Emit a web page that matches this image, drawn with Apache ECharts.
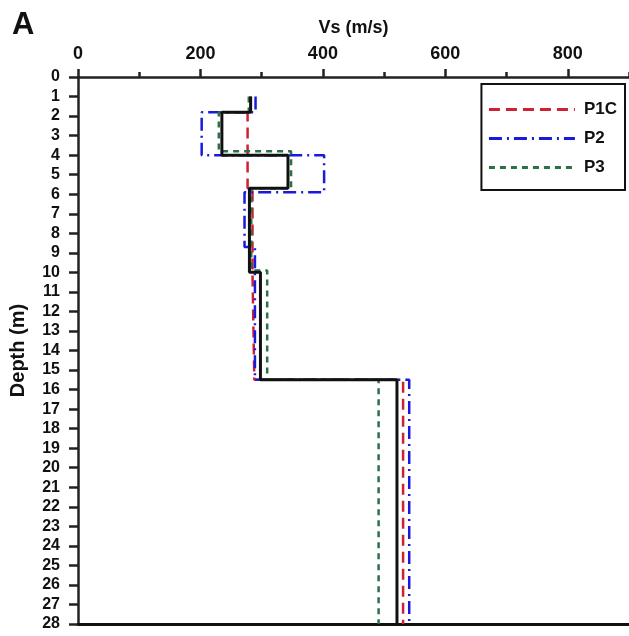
<!DOCTYPE html>
<html>
<head>
<meta charset="utf-8">
<script src="https://cdn.jsdelivr.net/npm/echarts@6/dist/echarts.min.js"></script>
<style>
html,body{margin:0;padding:0;background:#fff;}
#chart{width:629px;height:636px;}
</style>
</head>
<body>
<div id="chart"></div>
<script>
// Layer boundaries (depth, m) and layer velocities (Vs, m/s) for each profile
const blackDepths = [1, 1.8, 4, 5.7, 10, 15.5, 28];
const blackVs     = [282, 235, 343, 280, 298, 521];

const p1cDepths = [1, 1.8, 5.7, 10, 15.5, 28];
const p1cVs     = [282, 277, 285, 288, 531];

const p2Depths = [1, 1.8, 4, 5.9, 8.7, 15.5, 28];
const p2Vs     = [290, 202, 402, 272, 289, 541];

const p3Depths = [1, 1.8, 3.8, 5.7, 9.9, 15.5, 28];
const p3Vs     = [279, 230, 348, 283, 309, 491];

const xTickLabels = [0, 200, 400, 600, 800];
const depthTicks = Array.from({length: 29}, (_, i) => i);

function stepProfile(depths, vs) {
  const pts = [];
  for (let i = 0; i < vs.length; i++) {
    pts.push([vs[i], depths[i]]);
    pts.push([vs[i], depths[i + 1]]);
  }
  return pts;
}

const FONT = '"Liberation Sans", Arial, sans-serif';
const chart = echarts.init(document.getElementById('chart'));

chart.setOption({
  animation: false,
  backgroundColor: '#fff',
  textStyle: {fontFamily: FONT},
  title: {
    text: 'A', left: 7, top: 5,
    textStyle: {fontFamily: FONT, fontSize: 31, fontWeight: 'bold', color: '#111'}
  },
  grid: {left: 75, right: -2, top: 77, bottom: 12, containLabel: false},
  legend: {
    right: 4, top: 84, orient: 'vertical',
    data: ['P1C', 'P2', 'P3'],
    itemWidth: 86, itemHeight: 14, itemGap: 12,
    padding: [17, 8, 14, 6],
    borderColor: '#111', borderWidth: 2,
    itemStyle: {opacity: 0},
    lineStyle: {width: 3},
    textStyle: {fontFamily: FONT, fontSize: 17, fontWeight: 'bold', color: '#111', padding: [0, 0, 0, 4]}
  },
  xAxis: [
    {
      type: 'value', position: 'top', min: 0, max: 900, interval: 200,
      name: 'Vs (m/s)', nameLocation: 'middle', nameGap: 40,
      nameTextStyle: {fontFamily: FONT, fontSize: 18, fontWeight: 'bold', color: '#111'},
      axisLine: {show: true, lineStyle: {color: '#222', width: 2.5}},
      axisTick: {show: true, inside: false, length: 8, lineStyle: {color: '#222', width: 2.5}},
      axisLabel: {
        margin: 14, fontSize: 18, fontWeight: 'bold', color: '#111', fontFamily: FONT,
        showMaxLabel: false,
        formatter: v => (xTickLabels.indexOf(v) >= 0 ? String(v) : '')
      },
      splitLine: {show: false}
    },
    {
      type: 'value', position: 'top', min: 0, max: 900, interval: 100,
      axisLine: {show: false},
      axisTick: {show: true, length: 5, lineStyle: {color: '#222', width: 2.5}},
      axisLabel: {show: false},
      splitLine: {show: false}
    },
    {
      type: 'value', position: 'bottom', min: 0, max: 900,
      axisLine: {show: true, lineStyle: {color: '#111', width: 3}},
      axisTick: {show: false}, axisLabel: {show: false}, splitLine: {show: false}
    }
  ],
  yAxis: {
    type: 'value', inverse: true, min: 0, max: 28, interval: 1,
    name: 'Depth (m)', nameLocation: 'middle', nameGap: 50, nameRotate: 90,
    nameTextStyle: {fontFamily: FONT, fontSize: 20, fontWeight: 'bold', color: '#111'},
    axisLine: {show: true, onZero: false, lineStyle: {color: '#222', width: 2.5}},
    axisTick: {show: true, length: 9, lineStyle: {color: '#222', width: 2.5}},
    axisLabel: {
      margin: 18, fontSize: 16, fontWeight: 'bold', color: '#111', fontFamily: FONT,
      formatter: v => (depthTicks.indexOf(v) >= 0 ? String(v) : '')
    },
    splitLine: {show: false}
  },
  series: [
    {
      name: 'P1C', type: 'line', data: stepProfile(p1cDepths, p1cVs),
      showSymbol: false, symbol: 'none',
      lineStyle: {color: '#cc2233', width: 2.5, type: [11, 6]},
      itemStyle: {color: '#cc2233'}, z: 3
    },
    {
      name: 'P2', type: 'line', data: stepProfile(p2Depths, p2Vs),
      showSymbol: false, symbol: 'none',
      lineStyle: {color: '#1a1adb', width: 2.5, type: [13, 5, 2, 5]},
      itemStyle: {color: '#1a1adb'}, z: 3
    },
    {
      name: 'P3', type: 'line', data: stepProfile(p3Depths, p3Vs),
      showSymbol: false, symbol: 'none',
      lineStyle: {color: '#2a7048', width: 2.5, type: [6, 5]},
      itemStyle: {color: '#2a7048'}, z: 3
    },
    {
      name: 'Reference', type: 'line', data: stepProfile(blackDepths, blackVs),
      showSymbol: false, symbol: 'none',
      lineStyle: {color: '#111', width: 3, type: 'solid'},
      itemStyle: {color: '#111'}, z: 4
    }
  ]
});
</script>
</body>
</html>
